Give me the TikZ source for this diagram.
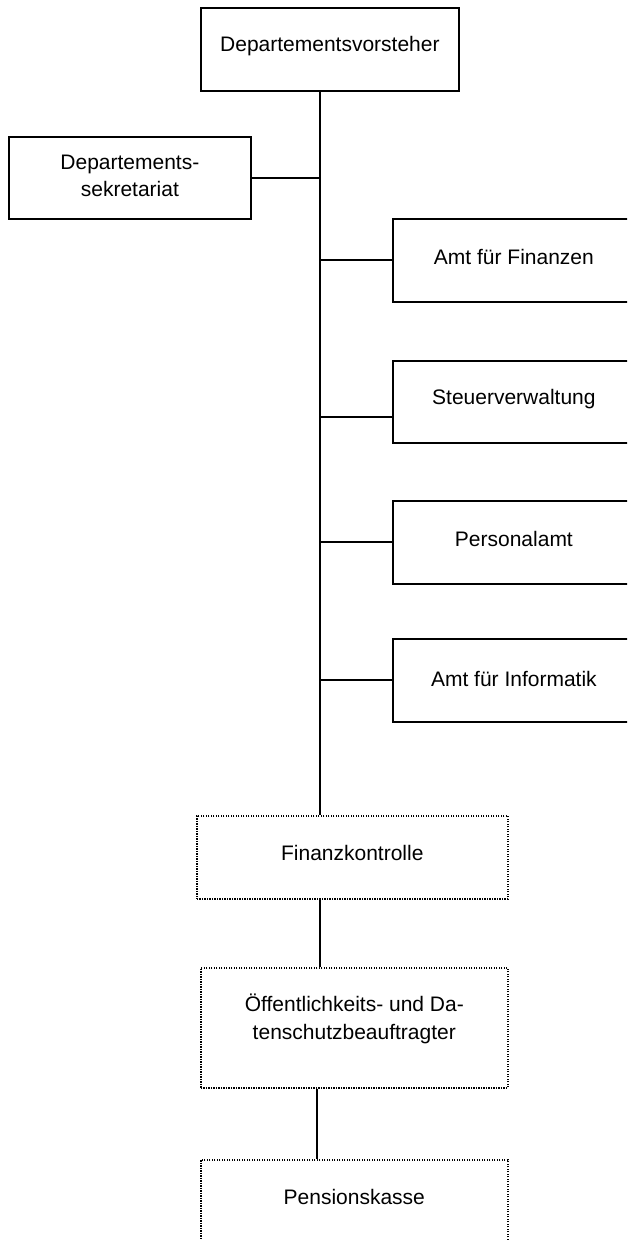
\documentclass[tikz,border=0pt]{standalone}
\usepackage{fontspec}
\setmainfont{Liberation Sans}
\begin{document}
\begin{tikzpicture}[x=1pt,y=-1pt,
  solidbox/.style={draw, line width=1.8pt, rectangle, inner sep=0pt, anchor=north west},
  dotbox/.style={draw, line width=1.6pt, dash pattern=on 1.2pt off 1.3pt, rectangle, inner sep=0pt, anchor=north west},
  txt/.style={align=center, inner sep=0pt, font=\fontsize{21}{27.5}\selectfont},
  conn/.style={line width=1.9pt}]
\clip (0,0) rectangle (627,1240);
\fill[white] (0,0) rectangle (627,1240);
\coordinate (trunk) at (320,0);
\coordinate (trunkb) at (317,0);
% boxes
\node[solidbox, minimum width=258pt, minimum height=83pt] (top) at (200,7) {};
\node[solidbox, minimum width=242pt, minimum height=82pt] (sek) at (8,136) {};
\node[solidbox, minimum width=242pt, minimum height=83pt] (fin) at (392,218) {};
\node[solidbox, minimum width=242pt, minimum height=82pt] (st) at (392,360) {};
\node[solidbox, minimum width=242pt, minimum height=83pt] (pa) at (392,500) {};
\node[solidbox, minimum width=242pt, minimum height=83pt] (inf) at (392,638) {};
\node[dotbox, minimum width=311pt, minimum height=83pt] (fk) at (196,815) {};
\node[dotbox, minimum width=307pt, minimum height=120pt] (oe) at (200,967) {};
\node[dotbox, minimum width=307pt, minimum height=83pt] (pk) at (200,1159) {};
% texts
\node[txt] (ttop) at ([yshift=3pt]top.center) {Departementsvorsteher};
\node[txt] (tsek) at ([yshift=2pt]sek.center) {Departements-\\sekretariat};
\node[txt] (tfin) at ([yshift=3pt]fin.center) {Amt für Finanzen};
\node[txt] (tst) at ([yshift=3pt]st.center) {Steuerverwaltung};
\node[txt] (tpa) at ([yshift=3pt]pa.center) {Personalamt};
\node[txt] (tinf) at ([yshift=1pt]inf.center) {Amt für Informatik};
\node[txt] (tfk) at ([yshift=4pt]fk.center) {Finanzkontrolle};
\node[txt] (toe) at ([yshift=9pt]oe.center) {Öffentlichkeits- und Da-\\tenschutzbeauftragter};
\node[txt] (tpk) at ([yshift=4pt]pk.center) {Pensionskasse};
% connectors
\draw[conn] (top.south -| trunk) -- (fk.north -| trunk);
\draw[conn] (sek.east) -- (sek.east -| trunk);
\draw[conn] (fin.west) -- (fin.west -| trunk);
\draw[conn] ([yshift=-15pt]st.west) -- ([yshift=-15pt]st.west -| trunk);
\draw[conn] (pa.west) -- (pa.west -| trunk);
\draw[conn] (inf.west) -- (inf.west -| trunk);
\draw[conn] (fk.south -| trunk) -- (oe.north -| trunk);
\draw[conn] (oe.south -| trunkb) -- (pk.north -| trunkb);
\end{tikzpicture}
\end{document}
